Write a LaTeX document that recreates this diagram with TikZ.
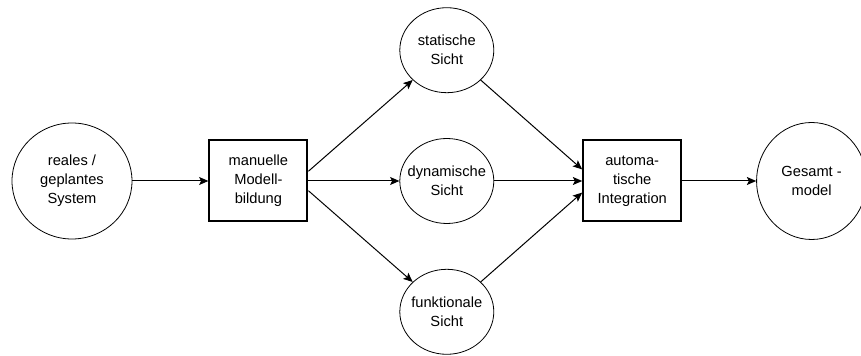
\documentclass[tikz,border=0pt]{standalone}
\usepackage{fontspec}
\setmainfont{Liberation Sans}
\usepackage{tikz}
\usetikzlibrary{shapes, arrows.meta, positioning}

\begin{document}
\begin{tikzpicture}[
        every node/.style={font=\fontsize{11}{14.3}\selectfont, align=center},
        sicht/.style={ellipse, draw, line width=0.6pt, inner sep=0pt, minimum width=70.5pt, minimum height=63.75pt},
        gross/.style={ellipse, draw, line width=0.6pt, inner sep=0pt},
        schritt/.style={rectangle, draw, line width=1.5pt, minimum width=73.5pt, minimum height=60.75pt},
        pfeil/.style={-{Stealth[length=7pt, width=6pt, inset=1.5pt]}, line width=0.75pt}]

    \useasboundingbox (-54pt,-131.25pt) rectangle (591.75pt,135.75pt);

    % Nodes
    \node (real) [gross, minimum width=90pt, minimum height=87pt, label={center:reales /\\geplantes\\System}] {};
    \node (modell) [right=57pt of real, schritt] {manuelle\\Modell-\\bildung};
    \node (dynamisch) [right=68.25pt of modell, sicht, label={center:dynamische\\Sicht}] {};
    \node (statisch) [above=33.75pt of dynamisch, sicht, label={center:statische\\Sicht}] {};
    \node (funktional) [below=33.75pt of dynamisch, sicht, label={center:funktionale\\Sicht}] {};
    \node (integration) [right=66pt of dynamisch, schritt] {automa-\\tische\\Integration};
    \node (gesamt) [right=55.5pt of integration, gross, minimum width=82.5pt, minimum height=87.75pt, label={center:Gesamt -\\model}] {};

    % Edges
    \draw[pfeil] (real) -- (modell);
    \draw[pfeil] (modell.11.5) -- (statisch);
    \draw[pfeil] (modell) -- (dynamisch);
    \draw[pfeil] (modell.-11.5) -- (funktional);
    \draw[pfeil] (statisch) -- (integration.167);
    \draw[pfeil] (dynamisch) -- (integration);
    \draw[pfeil] (funktional) -- (integration.193);
    \draw[pfeil] (integration) -- (gesamt);
\end{tikzpicture}
\end{document}
